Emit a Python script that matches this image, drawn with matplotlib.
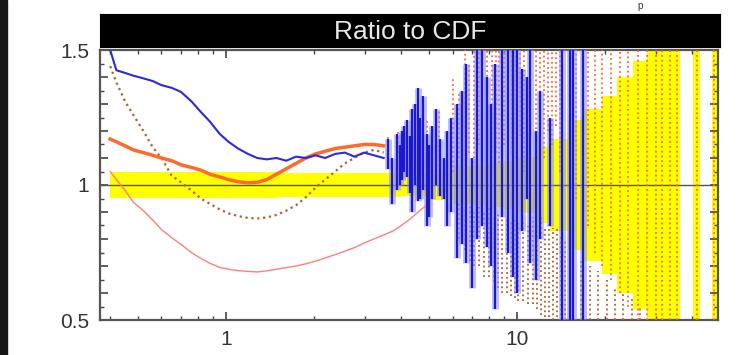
import matplotlib
matplotlib.use('Agg')
import matplotlib.pyplot as plt
from matplotlib.patches import Rectangle
from matplotlib.ticker import FixedLocator, MultipleLocator, NullFormatter, FuncFormatter

plt.rcParams['font.family'] = ['Liberation Sans', 'DejaVu Sans']

# --- datos ---
x_lo = [0.40, 0.42, 0.45, 0.48, 0.52, 0.56, 0.60, 0.65, 0.70, 0.76, 0.82, 0.88, 0.95, 1.02, 1.10,
        1.19, 1.28, 1.38, 1.49, 1.61, 1.74, 1.88, 2.03, 2.19, 2.37, 2.56, 2.76, 2.98, 3.22, 3.48]

azul = [1.50, 1.425, 1.415, 1.405, 1.395, 1.385, 1.37, 1.36, 1.345, 1.31, 1.27, 1.235, 1.19, 1.16, 1.135,
        1.115, 1.10, 1.095, 1.10, 1.09, 1.105, 1.10, 1.11, 1.10, 1.115, 1.12, 1.105, 1.12, 1.11, 1.10]

naranja = [1.17, 1.16, 1.145, 1.13, 1.12, 1.11, 1.10, 1.09, 1.075, 1.065, 1.055, 1.04, 1.03, 1.02, 1.012,
           1.008, 1.01, 1.02, 1.04, 1.06, 1.08, 1.10, 1.115, 1.125, 1.135, 1.14, 1.145, 1.15, 1.15, 1.145]

marron = [1.44, 1.38, 1.31, 1.26, 1.20, 1.14, 1.10, 1.035, 1.01, 0.98, 0.95, 0.93, 0.91, 0.895, 0.885,
          0.878, 0.876, 0.88, 0.889, 0.905, 0.925, 0.955, 0.99, 1.02, 1.05, 1.08, 1.10, 1.12, 1.13, 1.12]

rosa_x = x_lo + [3.75, 4.0, 4.3, 4.75, 5.0]
rosa = [1.05, 1.02, 0.98, 0.937, 0.905, 0.87, 0.835, 0.805, 0.78, 0.75, 0.728, 0.71, 0.695, 0.688, 0.683,
        0.68, 0.678, 0.682, 0.688, 0.694, 0.70, 0.708, 0.718, 0.73, 0.742, 0.755, 0.768, 0.785, 0.80, 0.815,
        0.83, 0.85, 0.875, 0.915, 0.93]

# barras de error azules (zona ruidosa)
azul_x = [3.6, 3.72, 3.87, 3.95, 4.02, 4.1, 4.18, 4.27, 4.36, 4.45, 4.57, 4.65, 4.75, 4.9, 5.0,
          5.1, 5.25, 5.43, 5.6, 5.75, 5.95, 6.2, 6.45, 6.7, 7.0, 7.3, 7.6, 7.9, 8.15, 8.4,
          8.9, 9.3, 9.7, 10.0, 10.4, 10.8, 11.1, 11.6, 12.0, 13.0, 14.3, 15.2, 15.6, 16.8]
azul_hi = [1.17, 1.10, 1.19, 1.15, 1.20, 1.22, 1.24, 1.18, 1.28, 1.30, 1.36, 1.25, 1.33, 1.19, 1.15,
           1.22, 1.28, 1.17, 1.10, 1.20, 1.25, 1.30, 1.35, 1.45, 1.10, 1.52, 1.52, 1.40, 1.30, 1.45,
           1.52, 1.52, 1.52, 1.52, 1.43, 1.40, 1.52, 1.20, 1.35, 1.25, 1.52, 1.52, 1.52, 1.52]
azul_lo = [1.06, 0.93, 0.98, 1.00, 1.02, 1.05, 1.03, 0.97, 0.90, 1.00, 0.94, 0.95, 0.98, 0.85, 0.88,
           0.95, 1.00, 0.96, 0.95, 0.85, 0.90, 0.73, 0.78, 0.71, 0.62, 0.80, 0.85, 0.77, 0.70, 0.54,
           0.88, 0.75, 0.66, 0.60, 0.83, 0.95, 0.71, 0.65, 0.80, 0.85, 0.48, 0.48, 0.48, 0.48]

# barras punteadas naranjas (arriba de 1)
nar_x = [3.6, 3.9, 4.15, 4.4, 4.9, 5.4, 6.0, 6.3, 6.6, 6.85, 7.1, 7.4, 7.6, 7.9, 8.2,
         8.45, 8.7, 9.0, 9.3, 9.6, 9.9, 10.25, 10.6, 11.6, 12.0, 12.4, 12.8, 13.2, 13.6, 14.0,
         15.9, 17.5, 18.5, 19.6, 21.0, 22.5, 24.0, 26.0, 28.0, 30.0, 31.5, 33.5, 35.5, 41.5, 47.5]
nar_lo = [1.10, 1.12, 1.08, 1.02, 1.00, 0.98, 1.05, 1.10, 1.02, 1.12, 1.08, 1.15, 1.00, 1.10, 1.05,
          1.12, 1.08, 1.15, 1.02, 1.12, 1.10, 1.18, 1.05, 1.12, 1.15, 1.10, 1.20, 1.15, 1.22, 1.05,
          0.95, 0.85, 0.75, 0.70, 0.65, 0.60, 0.55, 0.50, 0.50, 0.50, 0.50, 0.50, 0.50, 0.50, 0.50]
nar_hi = [1.18, 1.20, 1.18, 1.20, 1.25, 1.28, 1.40, 1.35, 1.52, 1.45, 1.52, 1.52, 1.52, 1.52, 1.52,
          1.52, 1.52, 1.52, 1.52, 1.52, 1.52, 1.52, 1.52, 1.52, 1.52, 1.52, 1.52, 1.52, 1.52, 1.52,
          1.52, 1.52, 1.52, 1.52, 1.52, 1.52, 1.52, 1.52, 1.52, 1.52, 1.52, 1.52, 1.52, 1.52, 1.52]

# barras punteadas marrones (debajo de 1)
mar_x = [6.3, 6.6, 6.9, 7.1, 7.4, 7.7, 8.0, 8.3, 8.6, 8.9, 9.2, 9.5, 9.8, 10.1, 10.5,
         10.9, 11.3, 11.7, 12.1, 12.5, 12.9, 13.3, 13.7, 14.2, 14.6, 15.6, 16.6, 17.8, 19.0, 20.3,
         21.7, 23.2, 24.8, 26.5]
mar_hi = [0.94, 0.92, 0.93, 0.90, 0.92, 0.90, 0.92, 0.89, 0.90, 0.88, 0.88, 0.87, 0.88, 0.86, 0.87,
          0.85, 0.88, 0.86, 0.88, 0.85, 0.86, 0.84, 0.85, 0.82, 0.80, 0.75, 0.72, 0.70, 0.68, 0.65,
          0.62, 0.60, 0.58, 0.55]
mar_lo = [0.80, 0.76, 0.72, 0.70, 0.70, 0.66, 0.66, 0.64, 0.62, 0.60, 0.60, 0.59, 0.58, 0.57, 0.57,
          0.56, 0.56, 0.54, 0.52, 0.51, 0.51, 0.50, 0.51, 0.50, 0.50, 0.50, 0.50, 0.50, 0.50, 0.50,
          0.50, 0.50, 0.50, 0.50]

# banda amarilla de incertidumbre (escalones)
banda_x = [0.40, 1.5, 4.0, 5.0, 6.0, 7.0, 8.0, 9.0, 10.0, 11.5, 13.0, 15.0, 17.0, 19.5, 22.0, 25.0,
           28.0, 36.3, 40.3, 42.6, 46.8, 50.0]
banda_semi = [0.048, 0.043, 0.04, 0.055, 0.07, 0.075, 0.08, 0.09, 0.105, 0.14, 0.17, 0.24, 0.28, 0.33,
              0.40, 0.46, 0.60, 0.0, 0.60, 0.0, 0.60, 0.60]

fig = plt.figure(figsize=(7.39, 3.55), dpi=100)
fig.patch.set_facecolor('white')
fig.patches.append(Rectangle((0, 0), 7 / 739, 1, transform=fig.transFigure, color='#161616', zorder=0))

ax = fig.add_axes([100 / 739, 35 / 355, 618 / 739, 270 / 355])

lo = [1 - s for s in banda_semi]
hi = [1 + s for s in banda_semi]
ax.fill_between(banda_x, lo, hi, step='post', color='#ffff00', lw=0, zorder=1)

ax.axhline(1, color='#555544', lw=1, zorder=2)

# zona ruidosa
ax.vlines(nar_x, nar_lo, nar_hi, colors='#ff6633', linestyles=':', lw=1.3, zorder=3)
ax.vlines(mar_x, mar_lo, mar_hi, colors='#b0602a', linestyles=':', lw=1.3, zorder=3)
ax.vlines(azul_x, azul_lo, azul_hi, colors='#8c8cff', lw=5, alpha=0.55, zorder=4)
ax.vlines(azul_x, azul_lo, azul_hi, colors='#1a1acc', lw=1.6, zorder=5)

# curvas suaves
ax.plot(rosa_x, rosa, color='#ff7f7f', lw=1, zorder=4)
ax.plot(x_lo, marron, color='#b0602a', ls=':', lw=1.6, zorder=4)
ax.plot(x_lo, naranja, color='#ff6a2a', lw=2.5, zorder=4)
ax.plot(x_lo, azul, color='#2a2ae0', lw=1.5, zorder=5)

ax.set_xscale('log')
ax.set_xlim(0.369, 49)
ax.set_ylim(0.5, 1.5)

ax.xaxis.set_major_locator(FixedLocator([1, 10]))
ax.xaxis.set_major_formatter(FuncFormatter(lambda v, p: '%g' % v))
ax.xaxis.set_minor_locator(FixedLocator([0.4, 0.5, 0.6, 0.7, 0.8, 0.9, 2, 3, 4, 5, 6, 7, 8, 9,
                                         20, 30, 40]))
ax.xaxis.set_minor_formatter(NullFormatter())

ax.yaxis.set_major_locator(MultipleLocator(0.1))
ax.yaxis.set_minor_locator(MultipleLocator(0.05))
etiquetas = {5: '0.5', 10: '1', 15: '1.5'}
ax.yaxis.set_major_formatter(FuncFormatter(lambda v, p: etiquetas.get(int(round(v * 10)), '')))

ax.tick_params(which='both', direction='in', top=True, right=True, colors='#444444',
               labelcolor='#333333', labelsize=15)
ax.tick_params(which='major', length=6, width=1.2)
ax.tick_params(which='minor', length=3, width=1)
ax.tick_params(axis='x', pad=7)
ax.tick_params(axis='y', pad=8)
for s in ax.spines.values():
    s.set_color('#555555')
    s.set_linewidth(1.6)

# barra de titulo negra
cab = fig.add_axes([100 / 739, 308 / 355, 620 / 739, 33 / 355])
cab.set_facecolor('black')
cab.set_xticks([])
cab.set_yticks([])
for s in cab.spines.values():
    s.set_color('black')
cab.text(0.5, 0.45, 'Ratio to CDF', color='#e8e8e8', fontsize=19, ha='center', va='center',
         transform=cab.transAxes)

fig.text(637 / 739, 1.0 - 1 / 355, 'p', fontsize=7, color='#333333', va='top')

plt.savefig('out.png', dpi=100)
